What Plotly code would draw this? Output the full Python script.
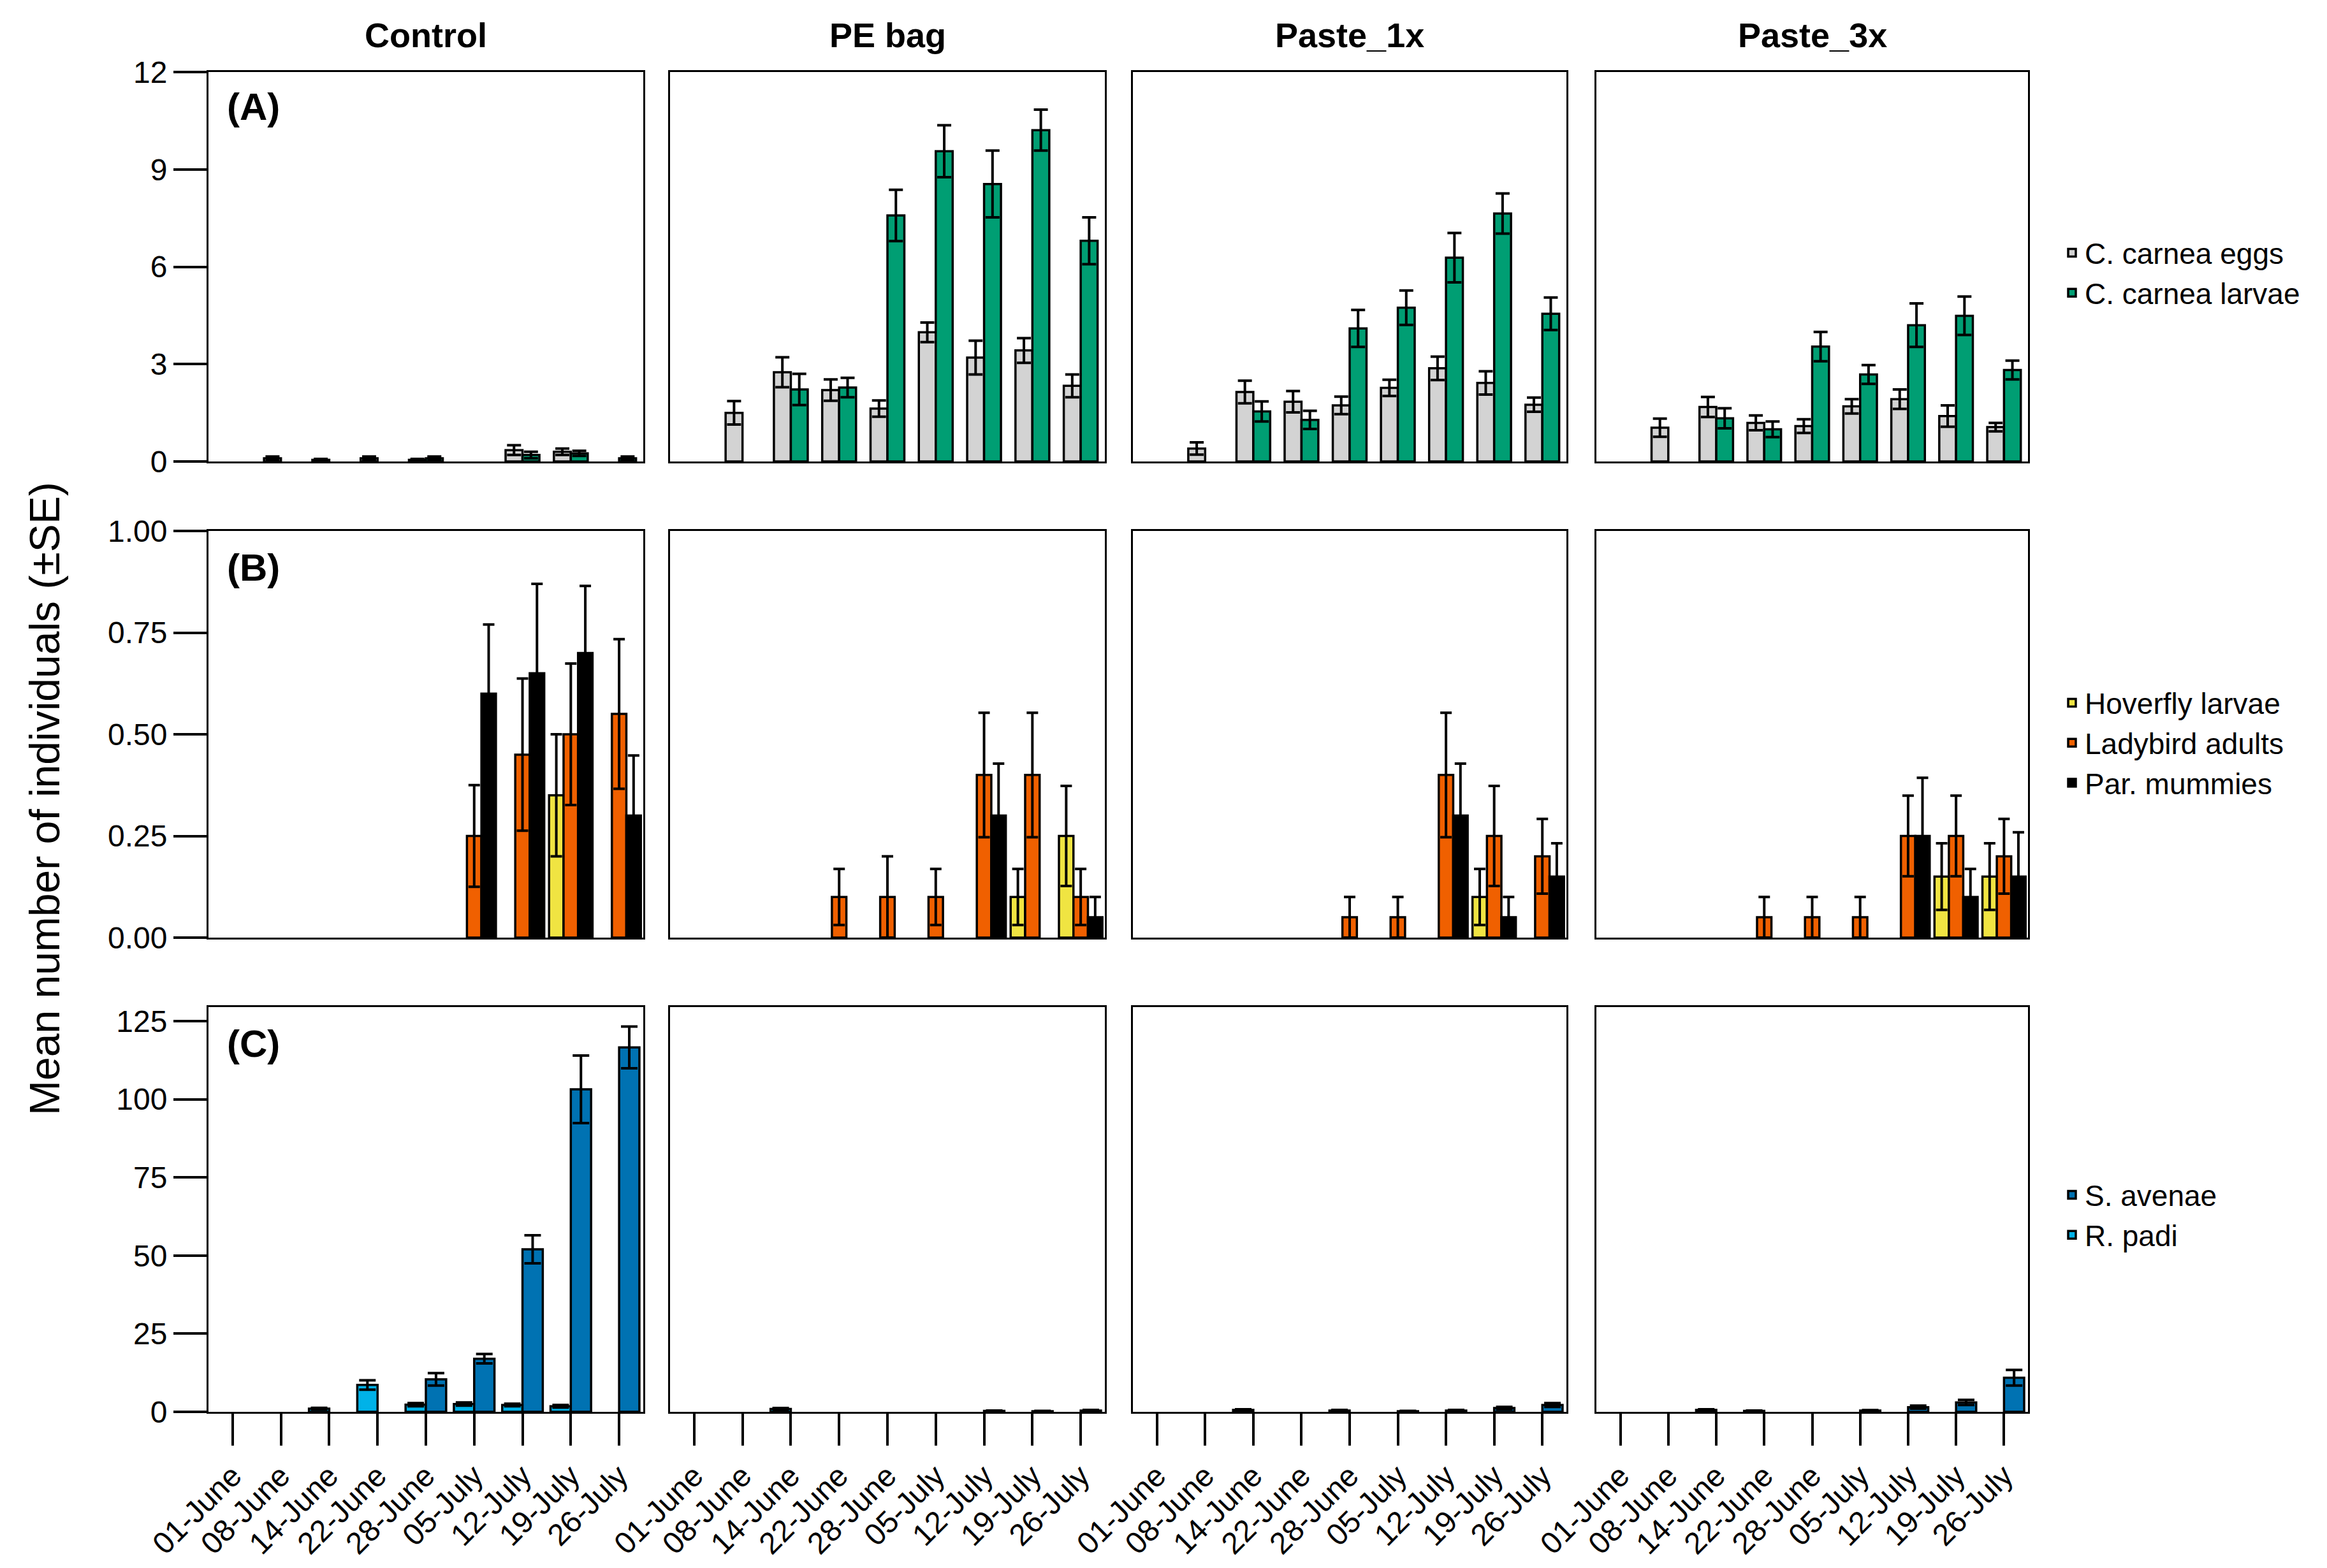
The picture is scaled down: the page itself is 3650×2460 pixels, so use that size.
import plotly.graph_objects as go
from plotly.subplots import make_subplots

dates = ["01-June", "08-June", "14-June", "22-June", "28-June",
         "05-July", "12-July", "19-July", "26-July"]
treatments = ["Control", "PE bag", "Paste_1x", "Paste_3x"]

# (A) C. carnea, one list per treatment (Control, PE bag, Paste_1x, Paste_3x)
eggs_mean = [
    [0, 0.1, 0.05, 0.1, 0.05, 0, 0.35, 0.3, 0],
    [0, 1.5, 2.75, 2.2, 1.63, 3.98, 3.2, 3.42, 2.33],
    [0, 0.4, 2.14, 1.84, 1.73, 2.27, 2.87, 2.42, 1.75],
    [0, 1.04, 1.68, 1.19, 1.09, 1.7, 1.92, 1.4, 1.06],
]
eggs_se = [
    [0, 0.05, 0.03, 0.05, 0.03, 0, 0.15, 0.1, 0],
    [0, 0.36, 0.46, 0.33, 0.25, 0.3, 0.52, 0.38, 0.35],
    [0, 0.19, 0.35, 0.33, 0.27, 0.25, 0.36, 0.36, 0.22],
    [0, 0.28, 0.31, 0.23, 0.21, 0.22, 0.3, 0.33, 0.13],
]
larvae_mean = [
    [0, 0, 0, 0, 0.1, 0, 0.2, 0.25, 0.1],
    [0, 0, 2.22, 2.28, 7.58, 9.56, 8.55, 10.21, 6.8],
    [0, 0, 1.54, 1.28, 4.1, 4.74, 6.28, 7.64, 4.55],
    [0, 0, 1.33, 0.99, 3.54, 2.68, 4.2, 4.49, 2.82],
]
larvae_se = [
    [0, 0, 0, 0, 0.05, 0, 0.1, 0.08, 0.05],
    [0, 0, 0.48, 0.3, 0.79, 0.8, 1.03, 0.63, 0.72],
    [0, 0, 0.31, 0.28, 0.57, 0.53, 0.76, 0.62, 0.5],
    [0, 0, 0.31, 0.24, 0.45, 0.29, 0.67, 0.59, 0.29],
]

# (B) other natural enemies
hoverfly_mean = [
    [0, 0, 0, 0, 0, 0, 0, 0.35, 0],
    [0, 0, 0, 0, 0, 0, 0, 0.1, 0.25],
    [0, 0, 0, 0, 0, 0, 0, 0.1, 0],
    [0, 0, 0, 0, 0, 0, 0, 0.15, 0.15],
]
hoverfly_se = [
    [0, 0, 0, 0, 0, 0, 0, 0.15, 0],
    [0, 0, 0, 0, 0, 0, 0, 0.069, 0.123],
    [0, 0, 0, 0, 0, 0, 0, 0.069, 0],
    [0, 0, 0, 0, 0, 0, 0, 0.082, 0.082],
]
ladybird_mean = [
    [0, 0, 0, 0, 0, 0.25, 0.45, 0.5, 0.55],
    [0, 0, 0, 0.1, 0.1, 0.1, 0.4, 0.4, 0.1],
    [0, 0, 0, 0, 0.05, 0.05, 0.4, 0.25, 0.2],
    [0, 0, 0, 0.05, 0.05, 0.05, 0.25, 0.25, 0.2],
]
ladybird_se = [
    [0, 0, 0, 0, 0, 0.125, 0.187, 0.174, 0.184],
    [0, 0, 0, 0.069, 0.1, 0.069, 0.153, 0.153, 0.069],
    [0, 0, 0, 0, 0.05, 0.05, 0.153, 0.123, 0.092],
    [0, 0, 0, 0.05, 0.05, 0.05, 0.099, 0.099, 0.092],
]
mummies_mean = [
    [0, 0, 0, 0, 0, 0.6, 0.65, 0.7, 0.3],
    [0, 0, 0, 0, 0, 0, 0.3, 0, 0.05],
    [0, 0, 0, 0, 0, 0, 0.3, 0.05, 0.15],
    [0, 0, 0, 0, 0, 0, 0.25, 0.1, 0.15],
]
mummies_se = [
    [0, 0, 0, 0, 0, 0.17, 0.22, 0.165, 0.148],
    [0, 0, 0, 0, 0, 0, 0.128, 0, 0.05],
    [0, 0, 0, 0, 0, 0, 0.128, 0.05, 0.082],
    [0, 0, 0, 0, 0, 0, 0.143, 0.069, 0.109],
]

# (C) aphids
padi_mean = [
    [0, 0, 1.0, 8.6, 2.3, 2.5, 2.2, 1.8, 0],
    [0, 0, 0.9, 0, 0, 0, 0, 0, 0],
    [0, 0, 0.6, 0, 0.4, 0, 0, 0, 0],
    [0, 0, 0.6, 0.3, 0, 0, 0, 0, 0],
]
padi_se = [
    [0, 0, 0.3, 1.5, 0.5, 0.5, 0.4, 0.4, 0],
    [0, 0, 0.3, 0, 0, 0, 0, 0, 0],
    [0, 0, 0.2, 0, 0.2, 0, 0, 0, 0],
    [0, 0, 0.2, 0.1, 0, 0, 0, 0, 0],
]
avenae_mean = [
    [0, 0, 0, 0, 10.4, 17.0, 52.0, 103.2, 116.6],
    [0, 0, 0, 0, 0, 0, 0.3, 0.2, 0.4],
    [0, 0, 0, 0, 0, 0.2, 0.4, 1.2, 2.2],
    [0, 0, 0, 0, 0, 0.4, 1.5, 3.0, 10.9],
]
avenae_se = [
    [0, 0, 0, 0, 2.0, 1.5, 4.5, 10.8, 6.7],
    [0, 0, 0, 0, 0, 0, 0.1, 0.1, 0.2],
    [0, 0, 0, 0, 0, 0.1, 0.2, 0.4, 0.6],
    [0, 0, 0, 0, 0, 0.15, 0.5, 0.8, 2.5],
]

FONT = "Liberation Sans, Arial, sans-serif"

# series per row: (name, means, SEs, colour, legend rank), left to right in each group
rows = [
    dict(series=[("C. carnea eggs", eggs_mean, eggs_se, "#D3D3D3", 1),
                 ("C. carnea larvae", larvae_mean, larvae_se, "#009E73", 2)],
         width=0.35, cap=11, legend="legend", yrange=[0, 12], dtick=3, fmt="",
         label="(A)", legend_top=352),
    dict(series=[("Hoverfly larvae", hoverfly_mean, hoverfly_se, "#F0E442", 1),
                 ("Ladybird adults", ladybird_mean, ladybird_se, "#F06000", 2),
                 ("Par. mummies", mummies_mean, mummies_se, "#000000", 3)],
         width=0.3, cap=9, legend="legend2", yrange=[0, 1], dtick=0.25, fmt=".2f",
         label="(B)", legend_top=1058),
    dict(series=[("R. padi", padi_mean, padi_se, "#00B2E8", 2),
                 ("S. avenae", avenae_mean, avenae_se, "#0072B2", 1)],
         width=0.42, cap=13, legend="legend3", yrange=[0, 129.5], dtick=25, fmt="",
         label="(C)", legend_top=1830),
]

# panel placement in pixels of the 3650 x 2460 page
W, H = 3650, 2460
L, R, T, B = 319, 477, 105, 253
PW, PH = W - L - R, H - T - B
col_px = [(319, 1001), (1043, 1725), (1769, 2449), (2496, 3173)]
row_px = [(105, 716), (825, 1463), (1572, 2207)]

fig = make_subplots(rows=3, cols=4)

for r, row in enumerate(rows, start=1):
    n = len(row["series"])
    start = -row["width"] * n / 2
    for k, (name, mean, se, colour, rank) in enumerate(row["series"]):
        for c in range(4):
            # empty dates get no bar (and no error cap on the baseline)
            ys = [v if v else None for v in mean[c]]
            fig.add_trace(go.Bar(
                x=dates, y=ys, name=name,
                width=row["width"], offset=start + k * row["width"],
                marker=dict(color=colour, line=dict(color="black", width=3.5)),
                error_y=dict(type="data", array=se[c], color="black",
                             thickness=4, width=row["cap"]),
                legend=row["legend"], legendrank=rank, showlegend=(c == 0),
            ), row=r, col=c + 1)

    y0, y1 = row_px[r - 1]
    for c in range(4):
        x0, x1 = col_px[c]
        last = r == 3
        fig.update_xaxes(
            domain=[(x0 - L) / PW, (x1 - L) / PW],
            type="category", range=[-0.5, 8.5],
            showline=True, mirror=True, linecolor="black", linewidth=3,
            showgrid=False, zeroline=False,
            ticks="outside" if last else "", ticklen=50, tickwidth=4, tickcolor="black",
            showticklabels=last, tickangle=-45,
            tickfont=dict(family=FONT, size=48, color="black"),
            row=r, col=c + 1)
        fig.update_yaxes(
            domain=[(T + PH - y1) / PH, (T + PH - y0) / PH],
            range=row["yrange"], dtick=row["dtick"], tick0=0, tickformat=row["fmt"],
            showline=True, mirror=True, linecolor="black", linewidth=3,
            showgrid=False, zeroline=False,
            ticks="outside" if c == 0 else "", ticklen=52, tickwidth=4, tickcolor="black",
            showticklabels=(c == 0),
            tickfont=dict(family=FONT, size=48, color="black"),
            row=r, col=c + 1)

    # panel letter inside the first panel of each row
    idx = (r - 1) * 4 + 1
    fig.add_annotation(text="<b>%s</b>" % row["label"], xref="x%s domain" % ("" if idx == 1 else idx),
                       yref="y%s domain" % ("" if idx == 1 else idx), x=0.04, y=0.91,
                       xanchor="left", yanchor="middle", showarrow=False,
                       font=dict(family=FONT, size=60, color="black"))

# column titles
for c, name in enumerate(treatments):
    idx = c + 1
    fig.add_annotation(text="<b>%s</b>" % name, xref="x%s domain" % ("" if idx == 1 else idx),
                       yref="paper", x=0.5, y=(T + PH - 47) / PH, xanchor="center",
                       yanchor="middle", showarrow=False,
                       font=dict(family=FONT, size=54, color="black"))

# shared y title
fig.add_annotation(text="Mean number of individuals (±SE)", xref="paper", yref="paper",
                   x=(62 - L) / PW, y=(T + PH - 1245) / PH, textangle=-90,
                   xanchor="center", yanchor="middle", showarrow=False,
                   font=dict(family=FONT, size=66, color="black"))

legend_style = dict(xanchor="left", yanchor="top", x=(3222 - L) / PW,
                    font=dict(family=FONT, size=46, color="black"),
                    bgcolor="rgba(0,0,0,0)", tracegroupgap=0, itemwidth=30)

fig.update_layout(
    width=W, height=H,
    margin=dict(l=L, r=R, t=T, b=B),
    barmode="overlay",
    plot_bgcolor="white", paper_bgcolor="white",
    font=dict(family=FONT, color="black"),
    legend=dict(legend_style, y=(T + PH - rows[0]["legend_top"]) / PH),
    legend2=dict(legend_style, y=(T + PH - rows[1]["legend_top"]) / PH),
    legend3=dict(legend_style, y=(T + PH - rows[2]["legend_top"]) / PH),
)

fig.write_html("out.html")
